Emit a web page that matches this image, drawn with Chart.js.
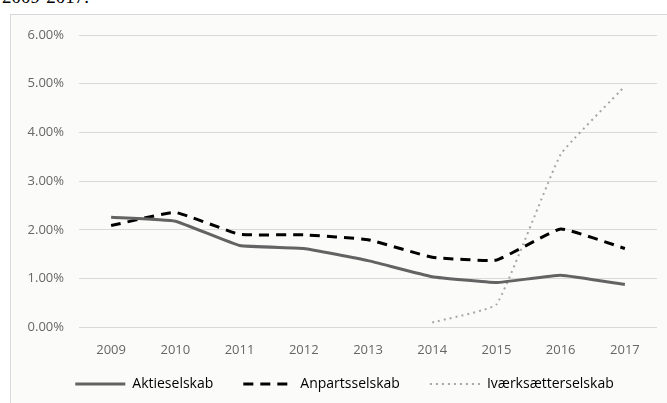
<!DOCTYPE html>
<html>
<head>
<meta charset="utf-8">
<script src="https://cdn.jsdelivr.net/npm/chart.js@4"></script>
<style>
  html, body { margin: 0; padding: 0; background: #ffffff; }
  body { width: 667px; height: 403px; position: relative; overflow: hidden; }
  #caption { position: absolute; left: 2px; top: -14px; font: 19px "Liberation Serif", serif; color: #000; }
  #frame { position: absolute; left: 10px; top: 14px; width: 680px; height: 420px;
           border: 1px solid #d9d9d9; background: #fbfcfa; }
  #wrap { position: absolute; left: 0; top: 0; width: 667px; height: 403px; }
</style>
</head>
<body>
<div id="caption">2009-2017.</div>
<div id="frame"></div>
<div id="wrap"><canvas id="rateChart"></canvas></div>
<script>
// Data (percent)

const years = ["2009", "2010", "2011", "2012", "2013", "2014", "2015", "2016", "2017"];

const aktieselskab = [2.26, 2.18, 1.68, 1.62, 1.37, 1.04, 0.92, 1.07, 0.88];

const anpartsselskab = [2.09, 2.36, 1.91, 1.90, 1.80, 1.44, 1.38, 2.02, 1.62];

const ivaerksaetterselskab = [null, null, null, null, null, 0.10, 0.47, 3.55, 4.95];

const yTicks = [0, 1, 2, 3, 4, 5, 6];

const textGray = "#666666";
const fontFamily = "'Open Sans', 'Liberation Sans', sans-serif";

// legend keeps wide gaps between items but sits closer to the x labels
const legendLift = 26;
const legendShiftX = 16;

const compactLegend = {
    id: "compactLegend",
    beforeLayout: function(chart) {
        const lg = chart.legend;
        if (!lg || lg._compact) return;
        lg._compact = true;
        const fit = lg.fit;
        const draw = lg.draw;
        lg.fit = function() { fit.call(this); this.height -= legendLift; };
        lg.draw = function() {
            this.top -= legendLift;
            this.left += legendShiftX;
            this.right += legendShiftX;
            draw.call(this);
            this.top += legendLift;
            this.left -= legendShiftX;
            this.right -= legendShiftX;
        };
    }
};

const rateCanvas = document.getElementById("rateChart");

new Chart(rateCanvas, {

    type: "line",

    data: {

        labels: years,

        datasets: [
            {
                label: "Aktieselskab",
                data: aktieselskab,
                borderColor: "#636363",
                borderWidth: 3,
                pointRadius: 0,
                tension: 0.1,
                fill: false
            },
            {
                label: "Anpartsselskab",
                data: anpartsselskab,
                borderColor: "#000000",
                borderWidth: 3,
                borderDash: [10, 7],
                pointRadius: 0,
                tension: 0.1,
                fill: false
            },
            {
                label: "Iværksætterselskab",
                data: ivaerksaetterselskab,
                borderColor: "#a6a6a6",
                borderWidth: 2,
                borderDash: [2, 4],
                pointRadius: 0,
                tension: 0.1,
                fill: false
            }
        ]
    },

    plugins: [compactLegend],

    options: {

        responsive: true,
        maintainAspectRatio: false,
        animation: false,

        layout: {
            padding: { top: 35, right: 10, bottom: 2, left: 0 }
        },

        scales: {

            x: {
                offset: true,
                grid: { display: false, drawTicks: false },
                border: { display: false },
                ticks: {
                    color: textGray,
                    padding: 15,
                    font: { family: fontFamily, size: 13 }
                }
            },

            y: {
                min: yTicks[0],
                max: yTicks[yTicks.length - 1],
                afterFit: function(scale) { scale.width = 79; },
                afterBuildTicks: function(scale) {
                    scale.ticks = yTicks.map(function(v) { return { value: v }; });
                },
                grid: { color: "#d9d9d9", drawTicks: false },
                border: { display: false },
                ticks: {
                    color: textGray,
                    padding: 15,
                    font: { family: fontFamily, size: 13 },
                    callback: function(v) { return v.toFixed(2) + "%"; }
                }
            }
        },

        plugins: {

            legend: {
                position: "bottom",
                labels: {
                    usePointStyle: true,
                    pointStyleWidth: 50,
                    color: textGray,
                    padding: 30,
                    font: { family: fontFamily, size: 14 },
                    generateLabels: function(chart) {
                        return chart.data.datasets.map(function(ds, i) {
                            return {
                                text: ds.label,
                                fillStyle: ds.borderColor,
                                strokeStyle: ds.borderColor,
                                lineWidth: ds.borderWidth,
                                lineDash: ds.borderDash || [],
                                pointStyle: "line",
                                datasetIndex: i
                            };
                        });
                    }
                }
            },

            tooltip: { enabled: false }
        }
    }
});
</script>
</body>
</html>
